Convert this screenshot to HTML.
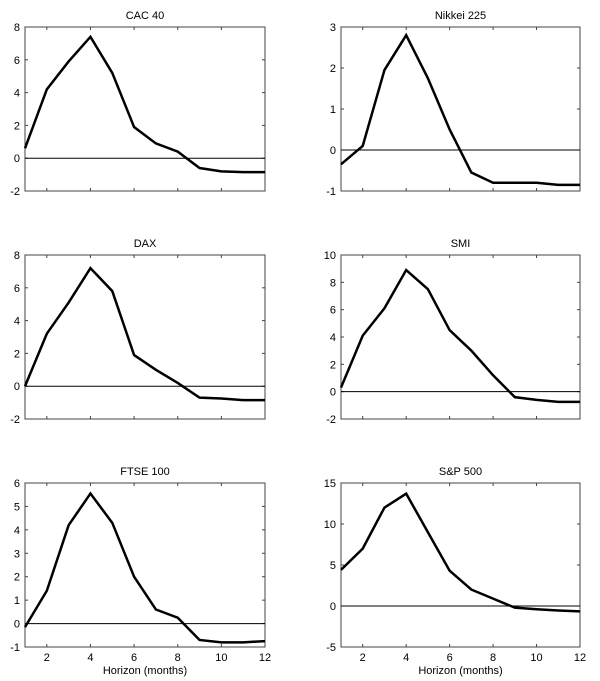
<!DOCTYPE html>
<html><head><meta charset="utf-8"><style>
body{margin:0;background:#fff;}
svg{display:block;font-family:"Liberation Sans",sans-serif;}
</style></head><body>
<svg id="c" width="600" height="681"></svg>
<script>
const horizons=[1,2,3,4,5,6,7,8,9,10,11,12];
const xTicks=[2,4,6,8,10,12];
const titles=["CAC 40","Nikkei 225","DAX","SMI","FTSE 100","S&P 500"];
const cacValues=[0.6,4.2,5.9,7.4,5.2,1.9,0.9,0.4,-0.6,-0.8,-0.85,-0.85];
const nikkeiValues=[-0.35,0.1,1.95,2.8,1.75,0.5,-0.55,-0.8,-0.8,-0.8,-0.85,-0.85];
const daxValues=[0,3.2,5.1,7.2,5.8,1.9,1.0,0.2,-0.7,-0.75,-0.85,-0.85];
const smiValues=[0.3,4.1,6.1,8.9,7.5,4.5,3.0,1.2,-0.4,-0.6,-0.75,-0.75];
const ftseValues=[-0.15,1.4,4.2,5.55,4.3,2.0,0.6,0.25,-0.7,-0.8,-0.8,-0.75];
const spValues=[4.4,7,12,13.7,9,4.3,2,0.9,-0.2,-0.4,-0.55,-0.65];
const cacTicks=[-2,0,2,4,6,8];
const nikkeiTicks=[-1,0,1,2,3];
const daxTicks=[-2,0,2,4,6,8];
const smiTicks=[-2,0,2,4,6,8,10];
const ftseTicks=[-1,0,1,2,3,4,5,6];
const spTicks=[-5,0,5,10,15];
const series=[cacValues,nikkeiValues,daxValues,smiValues,ftseValues,spValues];
const yTickSets=[cacTicks,nikkeiTicks,daxTicks,smiTicks,ftseTicks,spTicks];
const names=["cac40","nikkei225","dax","smi","ftse100","sp500"];
const NS="http://www.w3.org/2000/svg";
const svg=document.getElementById('c');
const colX=[[25,265],[341,580]];
const rowY=[[27,191],[255,419],[483,647]];
function mk(tag,attrs,parent){const e=document.createElementNS(NS,tag);for(const k in attrs)e.setAttribute(k,attrs[k]);(parent||svg).appendChild(e);return e;}
for(let i=0;i<6;i++){
  const [x0,x1]=colX[i%2],[y0,y1]=rowY[Math.floor(i/2)];
  const ticks=yTickSets[i],ymin=ticks[0],ymax=ticks[ticks.length-1];
  const sx=v=>x0+(v-1)/11*(x1-x0);
  const sy=v=>y1-(v-ymin)/(ymax-ymin)*(y1-y0);
  const g=mk('g',{});
  
  
  const t=mk('text',{x:(x0+x1)/2,y:y0-8,'text-anchor':'middle','font-size':11},g);
  t.textContent=titles[i];
  
  
  const fr=mk('rect',{x:x0,y:y0,width:x1-x0,height:y1-y0,fill:'none',stroke:'#444','stroke-width':1},g);
  
  
  xTicks.forEach(v=>{
    mk('line',{x1:sx(v),x2:sx(v),y1:y1,y2:y1-3,stroke:'#444'},g);
    mk('line',{x1:sx(v),x2:sx(v),y1:y0,y2:y0+3,stroke:'#444'},g);
    if(i>=4){const l=mk('text',{x:sx(v),y:y1+14,'text-anchor':'middle','font-size':11},g);l.textContent=v;
      
      }
  });
  ticks.forEach(v=>{
    mk('line',{x1:x0,x2:x0+3,y1:sy(v),y2:sy(v),stroke:'#444'},g);
    mk('line',{x1:x1,x2:x1-3,y1:sy(v),y2:sy(v),stroke:'#444'},g);
    const l=mk('text',{x:x0-5,y:sy(v)+4,'text-anchor':'end','font-size':11},g);l.textContent=v;
    
    
  });
  const z=mk('line',{x1:x0,x2:x1,y1:sy(0),y2:sy(0),stroke:'#000','stroke-width':1},g);
  
  
  const p=mk('polyline',{points:series[i].map((v,k)=>sx(horizons[k])+','+sy(v)).join(' '),fill:'none',stroke:'#000','stroke-width':2.5,'stroke-linejoin':'miter'},g);
  
  
  if(i>=4){const xl=mk('text',{x:(x0+x1)/2,y:y1+27,'text-anchor':'middle','font-size':11},g);xl.textContent='Horizon (months)';
    
    }
}
</script>
</body></html>
